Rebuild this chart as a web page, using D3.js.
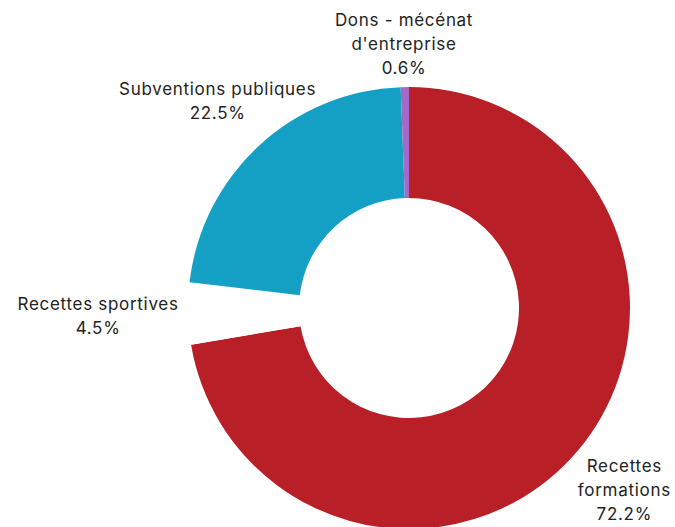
<!DOCTYPE html>
<html>
<head>
<meta charset="utf-8">
<script src="https://cdn.jsdelivr.net/npm/d3@7"></script>
<style>
  body { margin: 0; background: #fff; }
  text { font-family: "Inter", "Lato", sans-serif; fill: #222; }
</style>
</head>
<body>
<div id="vis"></div>
<script>
const FRAME_WIDTH = 675;
const FRAME_HEIGHT = 527;
const CENTER = {x: 409, y: 308};
const OUTER_R = 221;
const INNER_R = 110;

// data, clockwise from 12 o'clock
const categories = ["Recettes formations", "Recettes sportives", "Subventions publiques", "Dons - mécénat d'entreprise"];
const values = [72.2, 4.5, 22.5, 0.6];
const labelLines = [["Recettes", "formations"], ["Recettes sportives"], ["Subventions publiques"], ["Dons - mécénat", "d'entreprise"]];
const colors = ["#b81f27", "#ffffff", "#14a0c5", "#a56ac9"];

// how far out each label sits (layout only)
const labelRadius = [282, 311, 282, 264];

const data = categories.map((c, i) => ({name: c, value: values[i], lines: labelLines[i], i: i}));

const svg = d3.select("#vis")
  .append("svg")
    .attr("width", FRAME_WIDTH)
    .attr("height", FRAME_HEIGHT);

const g = svg.append("g")
  .attr("transform", "translate(" + CENTER.x + "," + CENTER.y + ")");

const pie = d3.pie()
  .sort(null)
  .value(d => d.value);

const arc = d3.arc()
  .innerRadius(INNER_R)
  .outerRadius(OUTER_R);

const arcs = pie(data);

g.selectAll("path.slice")
  .data(arcs)
  .enter()
  .append("path")
    .attr("class", "slice")
    .attr("d", arc)
    .attr("fill", d => colors[d.data.i]);

// labels at the middle angle of each slice
const fmt = d3.format(".1f");
const LINE_H = 24;

arcs.forEach(d => {
  const mid = (d.startAngle + d.endAngle) / 2;
  const r = labelRadius[d.data.i];
  const x = Math.sin(mid) * r;
  const y = -Math.cos(mid) * r;
  const lines = d.data.lines.concat([fmt(d.data.value) + "%"]);
  const top = y - (lines.length - 1) * LINE_H / 2;
  const t = g.append("text")
    .attr("text-anchor", "middle")
    .attr("font-size", "17px")
    .attr("letter-spacing", "0.7px");
  lines.forEach((ln, k) => {
    t.append("tspan")
      .attr("x", x)
      .attr("y", top + k * LINE_H)
      .attr("dy", "0.35em")
      .text(ln);
  });
});
</script>
</body>
</html>
